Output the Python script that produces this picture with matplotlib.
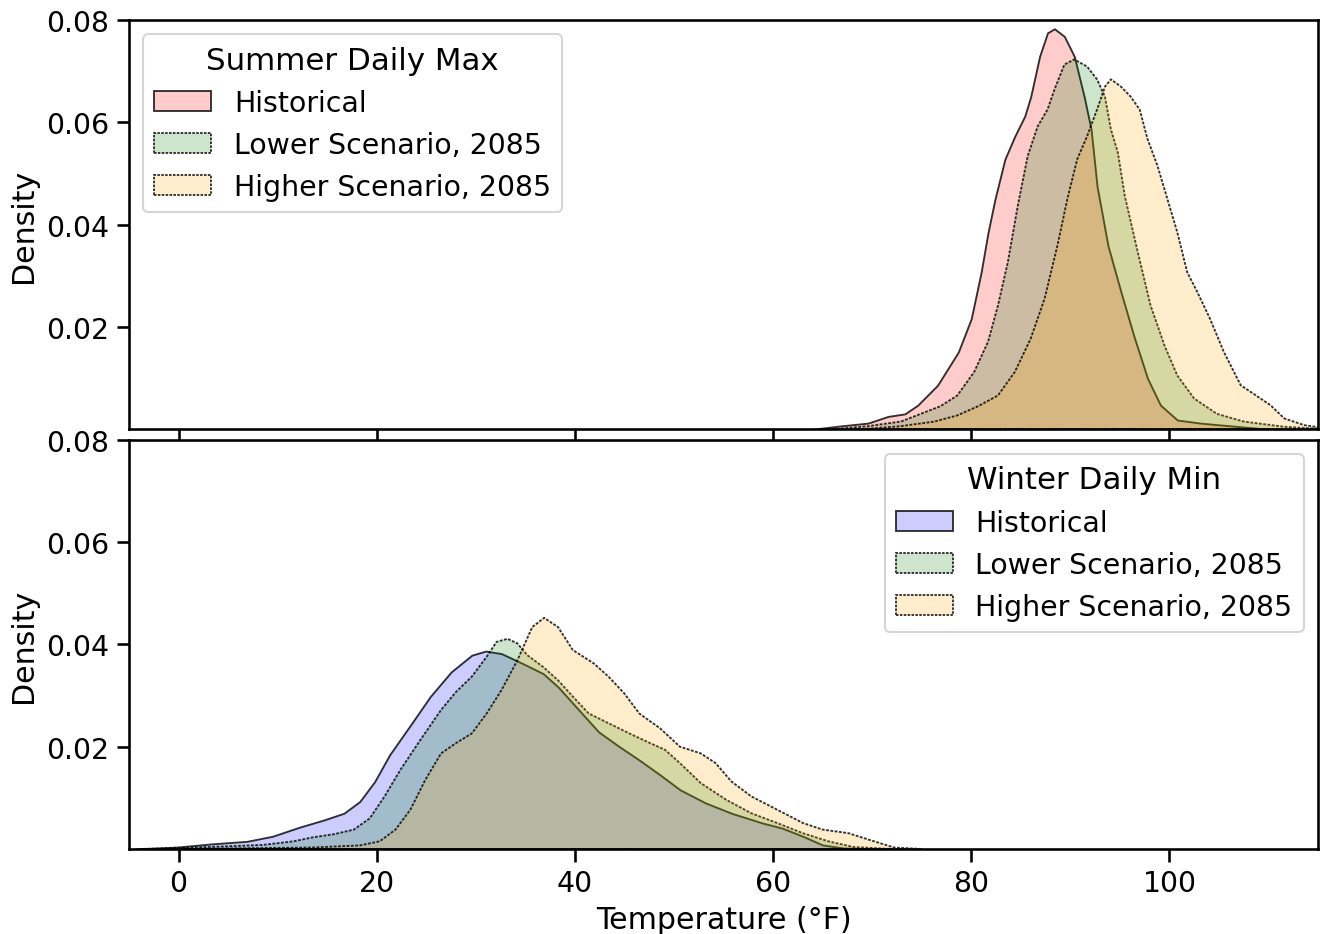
import matplotlib
matplotlib.use("Agg")
import matplotlib.pyplot as plt
from matplotlib.colors import to_rgba

# density curves (temperature in F, density)
summer_hist_t = [64, 66.6, 69.6, 71.6, 73.3, 74.6, 76.6, 78.7, 80.0, 81.0, 81.7, 82.4, 83.4, 84.4,
                 85.4, 86.0, 86.9, 87.7, 88.4, 89.4, 90.4, 91.4, 92.1, 92.7, 93.8, 95.1, 96.4,
                 97.8, 99.1, 100.8, 103.1, 106.5, 110]
summer_hist_d = [0.0, 0.0006, 0.0012, 0.0025, 0.003, 0.0047, 0.0086, 0.0151, 0.0216, 0.0307,
                 0.0385, 0.045, 0.0528, 0.0573, 0.0612, 0.065, 0.0729, 0.0775, 0.0783, 0.0768,
                 0.0729, 0.065, 0.0586, 0.0475, 0.0359, 0.0269, 0.0183, 0.0099, 0.0047, 0.0018,
                 0.0012, 0.0006, 0.0]

summer_low_t = [66, 69.6, 72.9, 74.9, 76.9, 78.6, 80.3, 81.7, 82.7, 83.7, 84.7, 85.7, 86.7, 87.7,
                88.4, 89.4, 90.4, 91.7, 92.7, 93.5, 94.1, 94.8, 95.5, 96.8, 98.1, 99.5, 100.8,
                102.5, 104.8, 107.5, 111.5, 115]
summer_low_d = [0.0, 0.0006, 0.0015, 0.003, 0.0045, 0.0066, 0.0112, 0.0171, 0.0242, 0.0327,
                0.0437, 0.0534, 0.0592, 0.0625, 0.0664, 0.0713, 0.0723, 0.0709, 0.0684, 0.065,
                0.0586, 0.0541, 0.0456, 0.0347, 0.0242, 0.0164, 0.0105, 0.006, 0.003, 0.0015,
                0.0005, 0.0001]

summer_high_t = [69, 72.9, 76.3, 78.6, 80.7, 82.7, 84.4, 86.0, 87.4, 88.7, 89.7, 90.7, 91.7, 92.7,
                 93.5, 94.1, 95.1, 96.1, 97.0, 97.8, 98.8, 99.8, 100.8, 101.8, 102.8, 104.1,
                 105.5, 107.2, 109.2, 110.2, 111.6, 113.6, 115]
summer_high_d = [0.0, 0.0006, 0.0015, 0.0027, 0.0045, 0.0066, 0.0112, 0.0177, 0.0255, 0.0359,
                 0.045, 0.0528, 0.0573, 0.0625, 0.067, 0.0684, 0.067, 0.065, 0.0625, 0.0567,
                 0.0515, 0.045, 0.0385, 0.0307, 0.0269, 0.0216, 0.0151, 0.0086, 0.006, 0.0047,
                 0.0021, 0.0008, 0.0004]

winter_hist_t = [-4.4, 0, 3.3, 6.9, 9.5, 12.1, 14.7, 16.7, 18.3, 19.8, 21.3, 23.4, 25.4, 27.5,
                 29.6, 31.0, 32.6, 34.7, 36.8, 38.3, 40.4, 42.4, 44.5, 46.5, 48.6, 50.6, 53.2,
                 55.8, 58.9, 60.9, 63.0, 65.0, 67.1, 70]
winter_hist_d = [0.0, 0.0004, 0.001, 0.0015, 0.0025, 0.0042, 0.0057, 0.007, 0.0093, 0.0132,
                 0.0184, 0.0242, 0.0298, 0.0346, 0.0379, 0.0387, 0.0382, 0.0363, 0.0343, 0.0317,
                 0.0272, 0.0229, 0.02, 0.0174, 0.0145, 0.0116, 0.009, 0.007, 0.0051, 0.0041,
                 0.0025, 0.0008, 0.0002, 0.0]

winter_low_t = [-4, -1.8, 4.4, 8.5, 11.6, 13.6, 15.7, 17.7, 19.3, 20.8, 22.4, 24.4, 26.5, 28.0,
                29.6, 31.1, 32.1, 33.2, 34.2, 35.2, 36.8, 38.3, 39.8, 41.4, 43.4, 45.5, 47.6,
                49.1, 50.6, 52.7, 55.3, 57.8, 60.4, 63.0, 65.6, 68.1, 72]
winter_low_d = [0.0, 0.0001, 0.0005, 0.0008, 0.0015, 0.0023, 0.0029, 0.0038, 0.006, 0.0103,
                0.0155, 0.0213, 0.0272, 0.0307, 0.0337, 0.0376, 0.0405, 0.0411, 0.0402, 0.0379,
                0.0356, 0.033, 0.0298, 0.0265, 0.0246, 0.0226, 0.0207, 0.0194, 0.0168, 0.0129,
                0.0096, 0.007, 0.0051, 0.0031, 0.0015, 0.0004, 0.0]

winter_high_t = [0, 4.4, 13.6, 18.3, 20.3, 21.9, 23.4, 24.9, 26.5, 28.0, 29.6, 31.1, 32.6, 34.2,
                 35.7, 36.9, 38.3, 39.8, 41.9, 43.4, 45.0, 46.5, 48.6, 50.6, 52.7, 54.2, 55.8,
                 57.8, 60.4, 63.0, 65.0, 67.6, 69.7, 72.2, 75]
winter_high_d = [0.0, 0.0001, 0.0003, 0.0007, 0.0015, 0.0038, 0.0077, 0.0135, 0.0187, 0.0207,
                 0.0226, 0.0265, 0.0311, 0.0369, 0.0434, 0.0452, 0.0434, 0.0389, 0.0363, 0.0337,
                 0.0304, 0.0265, 0.0236, 0.02, 0.0187, 0.0168, 0.0132, 0.0103, 0.0077, 0.0051,
                 0.0038, 0.0031, 0.0018, 0.0003, 0.0]

labels = ["Historical", "Lower Scenario, 2085", "Higher Scenario, 2085"]

plt.rcParams.update({
    "axes.linewidth": 1.25,
    "xtick.major.size": 6, "ytick.major.size": 6,
    "xtick.major.width": 1.25, "ytick.major.width": 1.25,
    "xtick.labelsize": 13.6, "ytick.labelsize": 13.6,
    "axes.labelsize": 14.4,
    "legend.fontsize": 13.6, "legend.title_fontsize": 14.8,
})

fig, (ax1, ax2) = plt.subplots(2, 1, figsize=(8.8, 6.2333), dpi=150, sharex=True)
fig.subplots_adjust(left=0.0977, right=0.9985, top=0.9775, bottom=0.0909, hspace=0.026)

dotted = (0, (1.5, 0.8))


def draw_kde(ax, t, d, color, label, ls):
    ax.fill_between(t, d, facecolor=to_rgba(color, 0.2), edgecolor=(0, 0, 0, 0.8),
                    linewidth=0.9, linestyle=ls, label=label)


draw_kde(ax1, summer_hist_t, summer_hist_d, "red", labels[0], "-")
draw_kde(ax1, summer_low_t, summer_low_d, "green", labels[1], dotted)
draw_kde(ax1, summer_high_t, summer_high_d, "orange", labels[2], dotted)

draw_kde(ax2, winter_hist_t, winter_hist_d, "blue", labels[0], "-")
draw_kde(ax2, winter_low_t, winter_low_d, "green", labels[1], dotted)
draw_kde(ax2, winter_high_t, winter_high_d, "orange", labels[2], dotted)

for ax in (ax1, ax2):
    ax.set_ylim(0, 0.08)
    ax.set_yticks([0.02, 0.04, 0.06, 0.08])
    ax.set_ylabel("Density")
ax2.set_xlim(-5, 115)
ax2.set_xticks([0, 20, 40, 60, 80, 100])
ax2.set_xlabel("Temperature (°F)")

ax1.legend(title="Summer Daily Max", loc="upper left")
ax2.legend(title="Winter Daily Min", loc="upper right")

fig.savefig("out.png", dpi=150)
